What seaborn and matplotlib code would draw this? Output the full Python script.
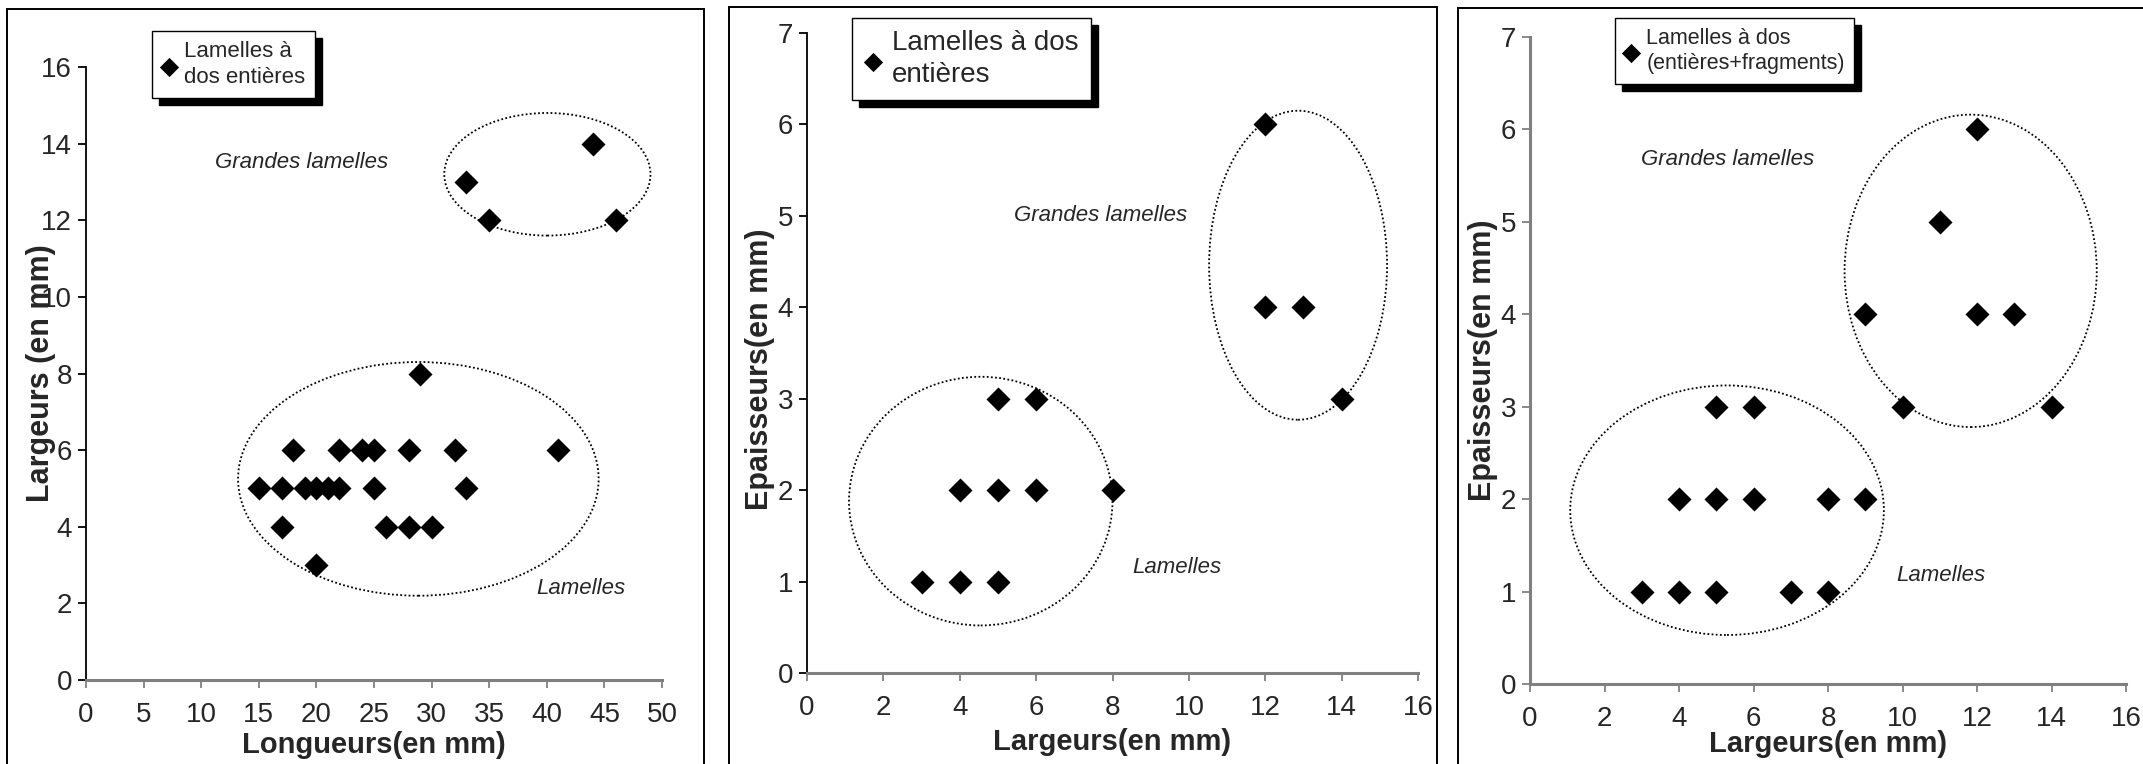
import matplotlib
matplotlib.use('Agg')
import matplotlib.pyplot as plt
import seaborn as sns
import pandas as pd
from matplotlib.patches import Ellipse, Rectangle
from matplotlib.transforms import IdentityTransform

# panneau 1 : longueur / largeur (lamelles à dos entières)
longueurs = [33, 35, 44, 46, 29,
             18, 22, 24, 25, 28, 32, 41,
             15, 17, 19, 20, 21, 22, 25, 33,
             17, 26, 28, 30, 20]
largeurs_1 = [13, 12, 14, 12, 8,
              6, 6, 6, 6, 6, 6, 6,
              5, 5, 5, 5, 5, 5, 5, 5,
              4, 4, 4, 4, 3]

# panneau 2 : largeur / épaisseur (entières)
largeurs_2 = [3, 4, 5, 4, 5, 6, 8, 5, 6, 12, 12, 13, 14]
epaisseurs_2 = [1, 1, 1, 2, 2, 2, 2, 3, 3, 6, 4, 4, 3]

# panneau 3 : largeur / épaisseur (entières + fragments)
largeurs_3 = [3, 4, 5, 7, 8, 4, 5, 6, 8, 9, 5, 6, 10, 14, 9, 12, 13, 11, 12]
epaisseurs_3 = [1, 1, 1, 1, 1, 2, 2, 2, 2, 2, 3, 3, 3, 3, 4, 4, 4, 5, 6]

legendes = ['Lamelles à\ndos entières', 'Lamelles à dos\nentières',
            'Lamelles à dos\n(entières+fragments)']

# ellipses : (centre x, centre y, largeur, hauteur)
ellipses_1 = [(40.05, 13.2, 17.9, 3.2), (28.85, 5.25, 31.3, 6.1)]
ellipses_2 = [(12.86, 4.46, 4.66, 3.38), (4.55, 1.88, 6.9, 2.72)]
ellipses_3 = [(11.83, 4.47, 6.77, 3.38), (5.29, 1.88, 8.42, 2.7)]

# étiquettes (x, y)
textes_1 = [(18.7, 13.5), (43.0, 2.4)]
textes_2 = [(7.68, 5.0), (9.69, 1.15)]
textes_3 = [(5.31, 5.67), (11.02, 1.17)]

sns.set_style('white')
plt.rcParams['font.family'] = ['Liberation Sans', 'DejaVu Sans']

W, H = 2143, 764
fig = plt.figure(figsize=(W / 100, H / 100), dpi=100)
fig.patch.set_facecolor('white')

# cadres des graphiques (style Excel)
for x0, x1, top in [(7, 704, 9), (729, 1437, 7), (1458, 2160, 8)]:
    fig.add_artist(Rectangle((x0 / W, -0.05), (x1 - x0) / W, 1.05 - top / H,
                             transform=fig.transFigure, fill=False,
                             ec='black', lw=1.4))


def panneau(pos, x, y, label, ellipses, textes, xlim, xstep, ylim, ystep,
            xlabel, ylabel, leg_pos, leg_size, leg_space, left_col,
            xlab_y, ylab_x, ylab_y):
    ax = fig.add_axes(pos)
    df = pd.DataFrame({'x': x, 'y': y})
    sns.scatterplot(data=df, x='x', y='y', marker='D', color='black', s=150,
                    edgecolor='black', linewidth=0, label=label, ax=ax,
                    legend=False, zorder=3)
    for cx, cy, w, h in ellipses:
        ax.add_patch(Ellipse((cx, cy), w, h, fill=False, ec='black',
                             ls=(0, (1, 1.3)), lw=1.3, zorder=2))
    (gx, gy), (lx, ly) = textes
    ax.text(gx, gy, 'Grandes lamelles', style='italic', fontsize=16,
            ha='center', va='center')
    ax.text(lx, ly, 'Lamelles', style='italic', fontsize=16,
            ha='center', va='center')
    ax.set_xlim(*xlim)
    ax.set_ylim(*ylim)
    ax.set_xticks(range(xlim[0], xlim[1] + 1, xstep))
    ax.set_yticks(range(ylim[0], ylim[1] + 1, ystep))
    for s in ['top', 'right']:
        ax.spines[s].set_visible(False)
    ax.spines['bottom'].set_color('#808080')
    ax.spines['bottom'].set_linewidth(2.2)
    ax.spines['left'].set_color(left_col)
    ax.spines['left'].set_linewidth(1.3 if left_col == 'black' else 2.2)
    ax.tick_params(axis='x', direction='out', length=6, width=1.3,
                   color='#808080', labelsize=20, pad=10, bottom=True)
    ax.tick_params(axis='y', direction='out', length=6, width=1.3,
                   color=left_col, labelsize=20, pad=4, left=True)
    ax.set_xlabel(xlabel, fontsize=21, fontweight='bold', va='center')
    ax.set_ylabel(ylabel, fontsize=22, fontweight='bold', va='center')
    ax.xaxis.set_label_coords(0.5, xlab_y)
    ax.yaxis.set_label_coords(ylab_x, ylab_y)
    leg = ax.legend(loc='upper left', bbox_to_anchor=leg_pos,
                    bbox_transform=fig.transFigure, borderaxespad=0,
                    fontsize=leg_size, frameon=True, fancybox=False,
                    edgecolor='black', framealpha=1, markerscale=0.8,
                    handlelength=0.6, handletextpad=0.4, borderpad=0.45,
                    labelspacing=0.2)
    leg.get_frame().set_linewidth(1.0)
    for t in leg.get_texts():
        t.set_linespacing(leg_space)
    leg.set_zorder(6)
    return ax, leg


axes = []
axes.append(panneau([86 / W, 84 / H, 576 / W, 613 / H], longueurs, largeurs_1,
                    legendes[0], ellipses_1, textes_1, (0, 50), 5, (0, 16), 2,
                    'Longueurs(en mm)', 'Largeurs (en mm)',
                    (152 / W, 1 - 31 / H), 16, 1.3, 'black', -0.106, -0.078, 0.5))
axes.append(panneau([807 / W, 91 / H, 611 / W, 640 / H], largeurs_2, epaisseurs_2,
                    legendes[1], ellipses_2, textes_2, (0, 16), 2, (0, 7), 1,
                    'Largeurs(en mm)', 'Epaisseurs(en mm)',
                    (852 / W, 1 - 18 / H), 20, 1.25, 'black', -0.108, -0.077, 0.475))
axes.append(panneau([1530 / W, 80 / H, 596 / W, 647 / H], largeurs_3, epaisseurs_3,
                    legendes[2], ellipses_3, textes_3, (0, 16), 2, (0, 7), 1,
                    'Largeurs(en mm)', 'Epaisseurs(en mm)',
                    (1615 / W, 1 - 18 / H), 15.5, 1.3, '#808080', -0.093, -0.079, 0.5))

# ombre portée des légendes
fig.canvas.draw()
renderer = fig.canvas.get_renderer()
for ax, leg in axes:
    bb = leg.get_window_extent(renderer)
    ax.add_artist(Rectangle((bb.x0 + 7, bb.y0 - 7), bb.width, bb.height,
                            transform=IdentityTransform(), color='black',
                            zorder=5.5, clip_on=False))

fig.savefig('out.png', dpi=100)
